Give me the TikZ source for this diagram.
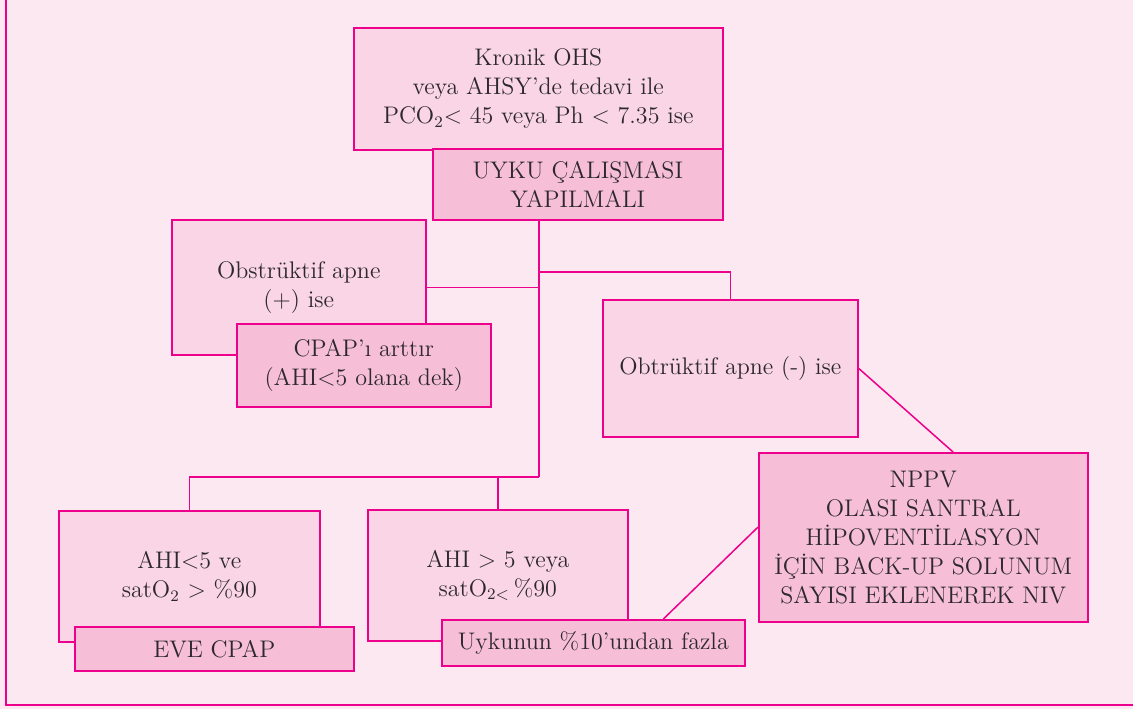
\documentclass[tikz,border=0pt]{standalone}
\usepackage{fontspec}
\usetikzlibrary{calc}

\definecolor{bgpink}{RGB}{252,232,240}
\definecolor{lightpink}{RGB}{249,213,229}
\definecolor{darkpink}{RGB}{246,190,215}
\definecolor{linepink}{RGB}{236,0,140}
\definecolor{textgray}{RGB}{45,40,45}

\begin{document}
\begin{tikzpicture}[x=0.5pt, y=-0.5pt,
  lbox/.style={draw=linepink, fill=lightpink, line width=0.8pt, anchor=north west, align=center, inner sep=0pt, text=textgray, font=\fontsize{12}{14.5}\selectfont},
  dbox/.style={lbox, fill=darkpink},
  link/.style={draw=linepink, line width=0.75pt}
]

% page and frame
\fill[bgpink] (0,0) rectangle (1133,709);
\useasboundingbox (0,0) rectangle (1133,709);
\draw[linepink, line width=1pt] (6,0) -- (6,705) -- (1133,705);

% top
\node[lbox, minimum width=184.5pt, minimum height=61pt] (kronik) at (353,27) {Kronik OHS\\veya AHSY’de tedavi ile\\PCO\textsubscript{2}< 45 veya Ph < 7.35 ise};
\node[dbox, minimum width=145pt, minimum height=35.5pt] (uyku) at (432,148) {UYKU ÇALIŞMASI\\YAPILMALI};

% obstructive apnea branches
\node[lbox, minimum width=127pt, minimum height=67.5pt] (obsplus) at (171,219) {Obstrüktif apne\\(+) ise};
\node[dbox, minimum width=127pt, minimum height=41.5pt] (cpap) at (236,323) {CPAP’ı arttır\\(AHI<5 olana dek)};
\node[lbox, minimum width=127.5pt, minimum height=68.5pt] (obsminus) at (602,299) {Obtrüktif apne (-) ise};
\node[dbox, minimum width=164.5pt, minimum height=84.5pt] (nppv) at (758,452) {NPPV\\OLASI SANTRAL\\HİPOVENTİLASYON\\İÇİN BACK-UP SOLUNUM\\SAYISI EKLENEREK NIV};

% AHI branches
\node[lbox, minimum width=130.5pt, minimum height=65.5pt] (ahilow) at (58,510) {AHI<5 ve\\satO\textsubscript{2} > \%90};
\node[dbox, minimum width=139.5pt, minimum height=22pt] (evecpap) at (74,626) {EVE CPAP};
\node[lbox, minimum width=130pt, minimum height=65.5pt] (ahihigh) at (367,509) {AHI > 5 veya\\satO\textsubscript{2<}\,\%90};
\node[dbox, minimum width=151.5pt, minimum height=23pt] (uykunun) at (441,619) {Uykunun \%10’undan fazla};

% connectors
\coordinate (jright) at (539,272);
\coordinate (jbottom) at (539,477);
\draw[link] (uyku.south -| jbottom) -- (jbottom);
\draw[link] (jright) -| (obsminus.north);
\draw[link] (obsplus.east) -- (obsplus.east -| jbottom);
\draw[link] (ahilow.north) |- (jbottom);
\draw[link] (ahihigh.north) -- (ahihigh.north |- jbottom);
\draw[link] (obsminus.east) -- ($(nppv.north west)!0.59!(nppv.north east)$);
\draw[link] ($(uykunun.north west)!0.73!(uykunun.north east)$) -- ($(nppv.north west)!0.44!(nppv.south west)$);

\end{tikzpicture}
\end{document}
